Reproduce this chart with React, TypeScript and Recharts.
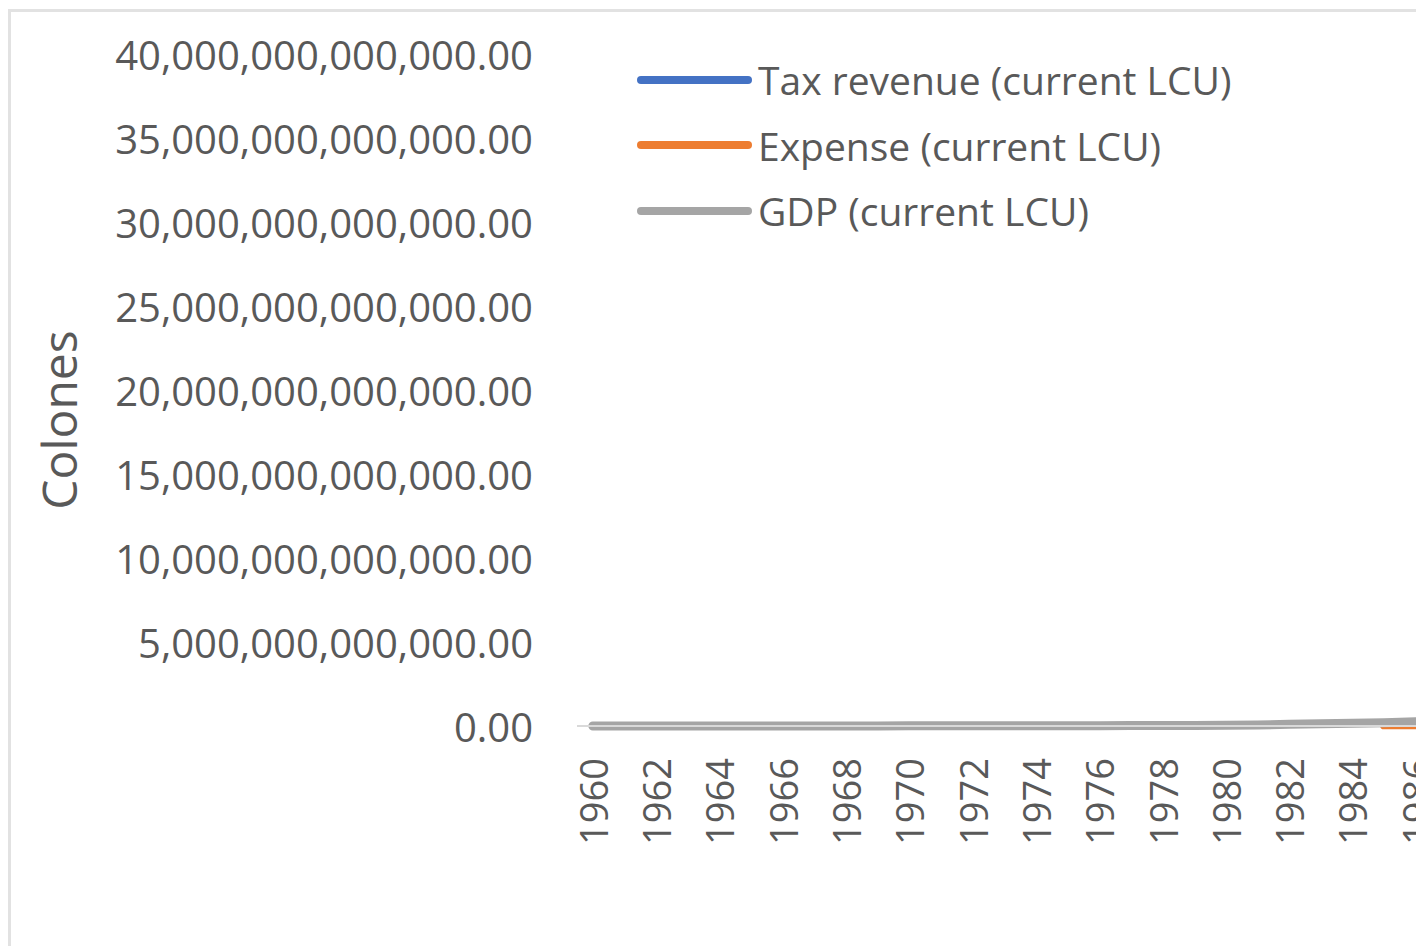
import React from "react";
import { LineChart, Line, XAxis, YAxis, Legend } from "recharts";

// years shown on the category axis (1960-2019)
const years = [
  1960, 1961, 1962, 1963, 1964, 1965, 1966, 1967, 1968, 1969,
  1970, 1971, 1972, 1973, 1974, 1975, 1976, 1977, 1978, 1979,
  1980, 1981, 1982, 1983, 1984, 1985, 1986, 1987, 1988, 1989,
  1990, 1991, 1992, 1993, 1994, 1995, 1996, 1997, 1998, 1999,
  2000, 2001, 2002, 2003, 2004, 2005, 2006, 2007, 2008, 2009,
  2010, 2011, 2012, 2013, 2014, 2015, 2016, 2017, 2018, 2019,
];
const tickYears = [
  1960, 1962, 1964, 1966, 1968, 1970, 1972, 1974, 1976, 1978, 1980, 1982, 1984,
  1986, 1988, 1990, 1992, 1994, 1996, 1998, 2000, 2002, 2004, 2006, 2008, 2010,
  2012, 2014, 2016, 2018,
];
const yTicks = [0, 5e12, 10e12, 15e12, 20e12, 25e12, 30e12, 35e12, 40e12];

const seriesNames = ["Tax revenue (current LCU)", "Expense (current LCU)", "GDP (current LCU)"];

// values in billions of colones
const taxRevenue = [
  null, null, null, null, null, null, null, null, null, null,
  null, null, null, null, null, null, null, null, null, null,
  null, null, null, null, null, null, null, null, null, null,
  60, 82, 110, 138, 150, 205, 240, 285, 360, 425,
  470, 560, 625, 730, 845, 1010, 1240, 1570, 1840, 1770,
  2440, 2650, 2880, 3150, 3350, 3660, 4040, 4200, 4430, 4600,
];
const expense = [
  null, null, null, null, null, null, null, null, null, null,
  null, null, null, null, null, null, null, null, null, null,
  null, null, null, null, null, 38, 47, 55, 65, 85,
  108, 135, 170, 215, 290, 340, 420, 480, 560, 650,
  760, 880, 1010, 1140, 1290, 1470, 1700, 1980, 2440, 3120,
  3720, 3960, 4390, 4930, 5340, 5850, 6240, 6800, 7280, 8020,
];
const gdp = [
  3.36, 3.55, 3.83, 4.1, 4.33, 4.77, 5.19, 5.59, 6.13, 6.74,
  7.62, 8.22, 9.31, 11.57, 14.83, 16.8, 20.9, 26.28, 30.27, 35.21,
  41.41, 57.1, 97.5, 129.4, 163.0, 197.9, 246.5, 284.5, 346.7, 428.6,
  549, 742.4, 981.5, 1202, 1418, 1806, 2108, 2546, 3103, 3720,
  4145, 4628, 5223, 6034, 7008, 8238, 9878, 11887, 14059, 15386,
  19662, 21371, 23372, 25067, 27227, 29281, 31097, 33015, 34902, 36700,
];

const BN = 1e9;
const chartData = years.map((year, i) => ({
  year,
  tax: taxRevenue[i] == null ? null : taxRevenue[i] * BN,
  expense: expense[i] == null ? null : expense[i] * BN,
  gdp: gdp[i] * BN,
}));

const FONT = "'Open Sans', sans-serif";
const TEXT = "#595959";

const fmt = (v: number) =>
  v.toLocaleString("en-US", { minimumFractionDigits: 2, maximumFractionDigits: 2 });

const YearTick = ({ x, y, payload }: any) => (
  <text
    x={x}
    y={y}
    transform={`rotate(-90, ${x}, ${y})`}
    textAnchor="end"
    dominantBaseline="central"
    fill={TEXT}
    fontSize={38}
    fontFamily={FONT}
  >
    {payload.value}
  </text>
);

const ValueTick = ({ x, y, payload }: any) => (
  <text x={x} y={y} textAnchor="end" dominantBaseline="central" fill={TEXT} fontSize={40} fontFamily={FONT}>
    {fmt(payload.value)}
  </text>
);

// keep the series order (Recharts sorts legend items by name)
const LegendBox = ({ payload }: any) => {
  const items = [...(payload || [])].sort(
    (a: any, b: any) => seriesNames.indexOf(a.value) - seriesNames.indexOf(b.value)
  );
  return (
    <div style={{ display: "flex", flexDirection: "column" }}>
      {items.map((p: any) => (
        <div key={p.value} style={{ display: "flex", alignItems: "center", height: 65.5 }}>
          <span
            style={{ display: "inline-block", width: 115, height: 8, borderRadius: 4, background: p.color, marginRight: 6 }}
          />
          <span style={{ fontSize: 39, color: TEXT, fontFamily: FONT, lineHeight: 1, whiteSpace: "nowrap" }}>
            {p.value}
          </span>
        </div>
      ))}
    </div>
  );
};

const App = () => {
  return (
    <div style={{ position: "fixed", inset: 0, overflow: "hidden", background: "#fff" }}>
      <div
        style={{
          position: "absolute",
          left: 8,
          top: 9,
          width: 3000,
          height: 2000,
          borderLeft: "3px solid #e2e2e2",
          borderTop: "3px solid #e2e2e2",
        }}
      />
      <div style={{ position: "absolute", left: 0, top: 0 }}>
        <LineChart width={2500} height={946} data={chartData} margin={{ top: 54, right: 24, left: 0, bottom: 70 }}>
          <XAxis
            dataKey="year"
            type="number"
            domain={[1959.5, 2019.5]}
            ticks={tickYears}
            interval={0}
            height={150}
            tickLine={false}
            tickMargin={26}
            axisLine={{ stroke: "#d9d9d9", strokeWidth: 2 }}
            tick={<YearTick />}
          />
          <YAxis
            domain={[0, 40e12]}
            ticks={yTicks}
            width={577}
            tickLine={false}
            axisLine={false}
            tickMargin={38}
            tick={<ValueTick />}
            label={{
              content: ({ viewBox }: any) => (
                <text
                  x={viewBox.x + 58}
                  y={viewBox.y + viewBox.height / 2 + 30}
                  transform={`rotate(-90, ${viewBox.x + 58}, ${viewBox.y + viewBox.height / 2 + 30})`}
                  textAnchor="middle"
                  dominantBaseline="central"
                  fill={TEXT}
                  fontSize={48}
                  fontFamily={FONT}
                >
                  Colones
                </text>
              ),
            }}
          />
          <Legend
            layout="vertical"
            verticalAlign="middle"
            align="center"
            content={<LegendBox />}
            wrapperStyle={{ top: 47, left: 637, width: "auto" }}
          />
          <Line type="linear" dataKey="tax" name={seriesNames[0]} stroke="#4472C4" strokeWidth={8} strokeLinecap="round" dot={false} isAnimationActive={false} />
          <Line type="linear" dataKey="expense" name={seriesNames[1]} stroke="#ED7D31" strokeWidth={8} strokeLinecap="round" dot={false} isAnimationActive={false} />
          <Line type="linear" dataKey="gdp" name={seriesNames[2]} stroke="#A5A5A5" strokeWidth={9} strokeLinecap="round" dot={false} isAnimationActive={false} />
        </LineChart>
      </div>
    </div>
  );
};

export default App;
